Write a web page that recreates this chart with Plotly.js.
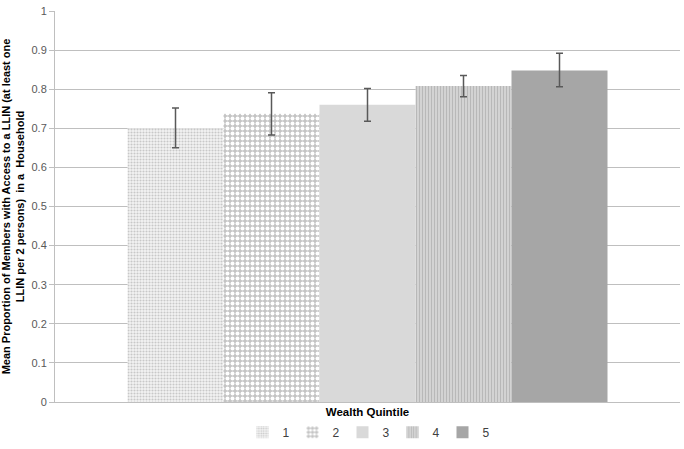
<!DOCTYPE html>
<html>
<head>
<meta charset="utf-8">
<script src="https://cdn.plot.ly/plotly-3.0.1.min.js"></script>
<style>html,body{margin:0;padding:0;background:#fff;}#chart{width:684px;height:449px;}</style>
</head>
<body>
<div id="chart"></div>
<script>
const quintiles = ["1", "2", "3", "4", "5"];
const means = [0.700, 0.737, 0.760, 0.808, 0.848];
const errPlus = [0.052, 0.054, 0.042, 0.027, 0.044];
const errMinus = [0.050, 0.054, 0.042, 0.027, 0.042];
const category = "Wealth Quintile";

const styles = [
  {color: "#f2f2f2", pattern: {shape: ".", fgcolor: "#c8c8c8", bgcolor: "#f4f4f4", size: 3, solidity: 0.4}},
  {color: "#c8c8c8", pattern: {shape: ".", fgcolor: "#ffffff", bgcolor: "#c4c4c4", size: 5, solidity: 0.5}},
  {color: "#d9d9d9", pattern: {shape: ""}},
  {color: "#cfcfcf", pattern: {shape: "|", fgcolor: "#b8b8b8", bgcolor: "#d6d6d6", size: 3, solidity: 0.4}},
  {color: "#a6a6a6", pattern: {shape: ""}}
];

const traces = quintiles.map((q, i) => ({
  type: "bar",
  name: q,
  x: [""],
  y: [means[i]],
  marker: {color: styles[i].color, pattern: styles[i].pattern, line: {width: 0}},
  error_y: {type: "data", symmetric: false, array: [errPlus[i]], arrayminus: [errMinus[i]], color: "#595959", thickness: 1.5, width: 3.5},
  hoverinfo: "skip"
}));

const layout = {
  width: 684, height: 449,
  margin: {l: 55, r: 4, t: 11, b: 47},
  paper_bgcolor: "#ffffff",
  plot_bgcolor: "#ffffff",
  barmode: "group",
  bargap: 0.232,
  bargroupgap: 0,
  font: {family: "Liberation Sans, Arial, sans-serif", size: 11, color: "#595959"},
  xaxis: {
    automargin: false,
    showticklabels: false,
    ticks: "",
    showline: true, linecolor: "#bfbfbf", linewidth: 1,
    showgrid: false,
    title: {text: "<b>" + category + "</b>", font: {size: 11.5, color: "#000000"}, standoff: 7}
  },
  yaxis: {
    automargin: false,
    range: [0, 1],
    tickvals: [0,0.1,0.2,0.3,0.4,0.5,0.6,0.7,0.8,0.9,1],
    ticktext: ["0","0.1","0.2","0.3","0.4","0.5","0.6","0.7","0.8","0.9","1"],
    ticks: "outside", ticklen: 5, tickcolor: "#bfbfbf",
    showline: true, linecolor: "#bfbfbf", linewidth: 1,
    gridcolor: "#bfbfbf", gridwidth: 1,
    zeroline: false,
    tickfont: {size: 11, color: "#595959"},
    title: {text: "<b>Mean Proportion of Members with Access to a LLIN (at least one<br>LLIN per 2 persons)  in a  Household</b>", font: {size: 11, color: "#000000"}, standoff: 8}
  },
  showlegend: true,
  legend: {orientation: "h", x: 0.5, xanchor: "center", xref: "paper", yref: "container", y: 0.005, yanchor: "bottom", font: {size: 12, color: "#404040"}, itemwidth: 30, entrywidth: 5, traceorder: "normal", tracegroupgap: 0}
};

Plotly.newPlot("chart", traces, layout, {displayModeBar: false, staticPlot: true});
</script>
</body>
</html>
